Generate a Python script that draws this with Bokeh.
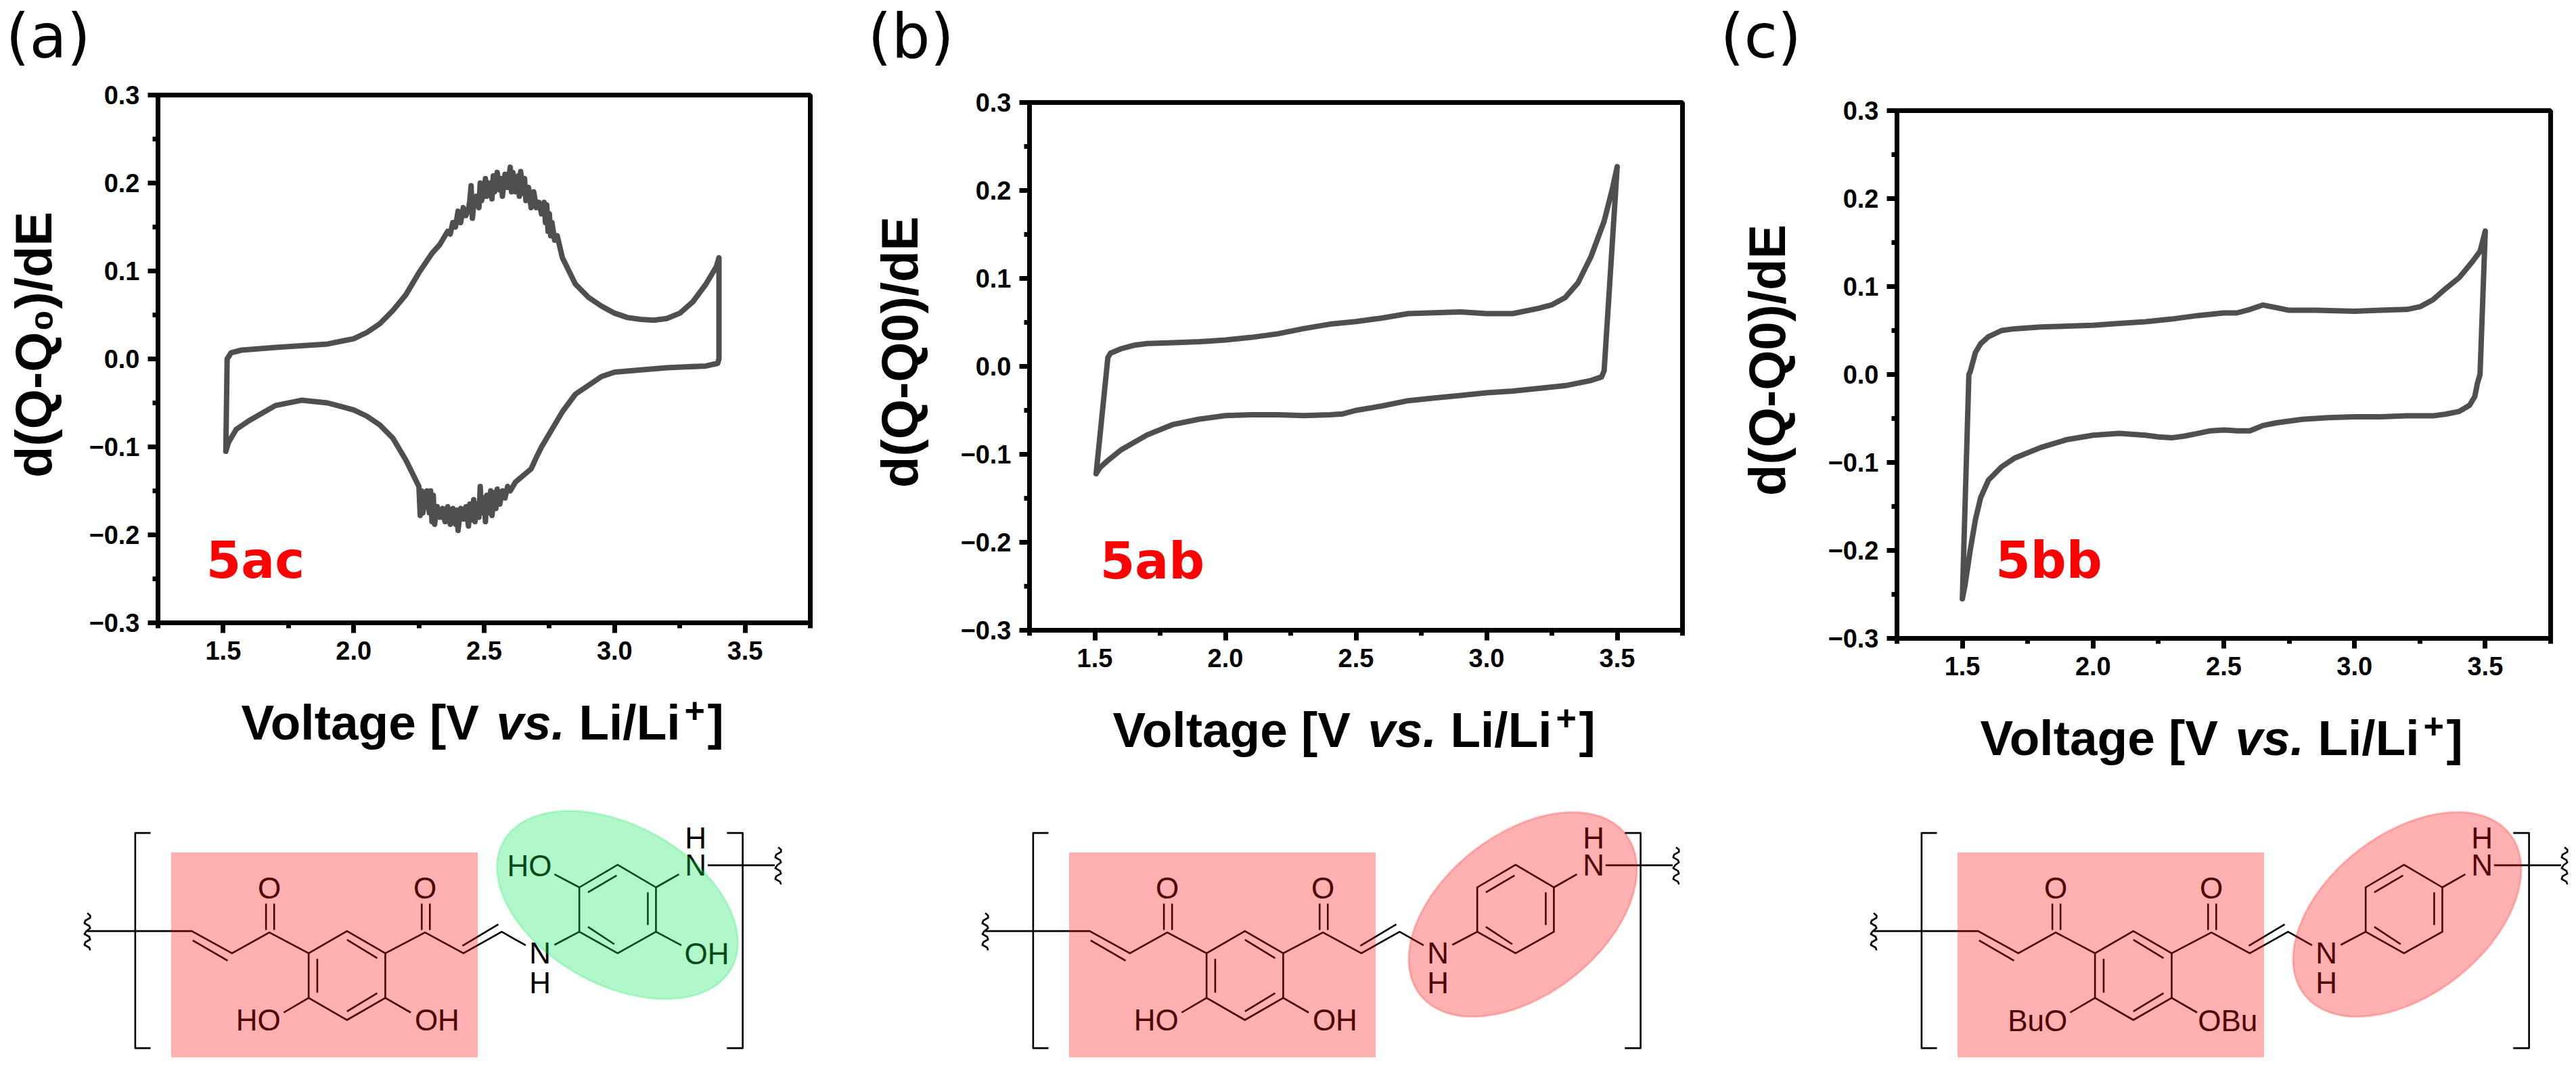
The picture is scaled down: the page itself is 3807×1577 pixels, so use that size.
from bokeh.plotting import figure
from bokeh.layouts import column, row
from bokeh.models import Label, FixedTicker, Range1d
from bokeh.core.properties import value
from bokeh.embed import file_html
from bokeh.resources import INLINE

# ---------- CV curves (voltage, d(Q-Q0)/dE) ----------
xa = [1.51,1.515,1.53,1.57,1.7,1.8,1.9,2.0,2.05,2.1,2.15,2.2,2.25,2.3,2.33,2.35,2.36,2.37,2.38,2.39,2.40,2.41,2.42,2.43,2.44,2.445,2.45,2.455,2.46,2.47,2.48,2.485,2.49,2.50,2.505,2.51,2.52,2.53,2.535,2.54,2.55,2.56,2.565,2.57,2.58,2.59,2.60,2.605,2.61,2.62,2.63,2.635,2.64,2.65,2.655,2.66,2.67,2.68,2.69,2.70,2.71,2.72,2.73,2.735,2.74,2.745,2.75,2.755,2.76,2.77,2.78,2.8,2.85,2.9,2.95,3.0,3.05,3.1,3.15,3.2,3.25,3.3,3.35,3.39,3.4,
      3.4,3.395,3.35,3.2,3.0,2.95,2.9,2.85,2.8,2.75,2.72,2.7,2.68,2.66,2.64,2.62,2.6,2.59,2.58,2.57,2.56,2.55,2.545,2.54,2.53,2.525,2.52,2.51,2.505,2.5,2.49,2.485,2.48,2.47,2.465,2.46,2.45,2.445,2.44,2.43,2.42,2.41,2.40,2.395,2.39,2.38,2.37,2.36,2.35,2.34,2.33,2.32,2.31,2.305,2.30,2.295,2.29,2.28,2.27,2.265,2.26,2.255,2.25,2.2,2.15,2.1,2.05,2.0,1.9,1.8,1.7,1.6,1.55,1.52,1.51]
ya = [-0.105,0.0,0.007,0.01,0.013,0.015,0.017,0.023,0.03,0.04,0.055,0.073,0.098,0.12,0.13,0.14,0.145,0.142,0.155,0.15,0.168,0.155,0.172,0.163,0.17,0.18,0.197,0.16,0.175,0.185,0.172,0.2,0.18,0.19,0.205,0.185,0.2,0.182,0.208,0.19,0.212,0.192,0.205,0.185,0.21,0.195,0.218,0.19,0.212,0.19,0.208,0.185,0.213,0.188,0.205,0.18,0.195,0.172,0.19,0.172,0.178,0.165,0.178,0.155,0.175,0.145,0.165,0.14,0.155,0.135,0.14,0.115,0.085,0.07,0.06,0.052,0.047,0.045,0.044,0.046,0.052,0.065,0.085,0.105,0.115,
      0.0,-0.005,-0.008,-0.01,-0.015,-0.02,-0.03,-0.04,-0.06,-0.085,-0.1,-0.112,-0.125,-0.13,-0.135,-0.14,-0.15,-0.145,-0.158,-0.15,-0.165,-0.148,-0.17,-0.152,-0.178,-0.15,-0.175,-0.155,-0.185,-0.158,-0.175,-0.145,-0.18,-0.165,-0.185,-0.16,-0.183,-0.165,-0.19,-0.168,-0.182,-0.17,-0.195,-0.172,-0.188,-0.17,-0.188,-0.168,-0.185,-0.17,-0.18,-0.168,-0.188,-0.155,-0.185,-0.15,-0.175,-0.15,-0.165,-0.175,-0.15,-0.178,-0.145,-0.115,-0.09,-0.075,-0.065,-0.058,-0.05,-0.047,-0.053,-0.07,-0.08,-0.095,-0.105]
xb = [1.505,1.55,1.56,1.6,1.65,1.7,1.8,1.9,2.0,2.1,2.2,2.3,2.4,2.5,2.6,2.7,2.8,2.9,3.0,3.1,3.2,3.25,3.3,3.35,3.4,3.45,3.48,3.5,
      3.45,3.44,3.4,3.3,3.2,3.1,3.0,2.9,2.8,2.7,2.6,2.5,2.45,2.4,2.3,2.2,2.1,2.0,1.9,1.8,1.7,1.6,1.55,1.52,1.505]
yb = [-0.122,0.01,0.015,0.02,0.024,0.026,0.027,0.028,0.03,0.033,0.037,0.043,0.048,0.051,0.055,0.06,0.061,0.062,0.06,0.06,0.066,0.07,0.078,0.095,0.125,0.165,0.2,0.227,
      -0.005,-0.012,-0.016,-0.022,-0.025,-0.028,-0.03,-0.033,-0.036,-0.039,-0.045,-0.05,-0.054,-0.055,-0.056,-0.055,-0.055,-0.056,-0.06,-0.066,-0.078,-0.095,-0.107,-0.115,-0.122]
xc = [1.5,1.525,1.53,1.55,1.57,1.6,1.65,1.7,1.8,1.9,2.0,2.1,2.2,2.3,2.4,2.5,2.55,2.6,2.65,2.7,2.75,2.85,3.0,3.1,3.2,3.25,3.3,3.35,3.4,3.45,3.48,3.5,
      3.48,3.47,3.46,3.44,3.4,3.35,3.3,3.2,3.1,3.0,2.9,2.8,2.7,2.65,2.6,2.55,2.5,2.45,2.4,2.35,2.3,2.25,2.2,2.1,2.0,1.9,1.8,1.7,1.65,1.6,1.57,1.55,1.53,1.51,1.5]
yc = [-0.255,0.0,0.003,0.025,0.035,0.043,0.05,0.052,0.054,0.055,0.056,0.058,0.06,0.063,0.067,0.07,0.07,0.074,0.079,0.076,0.073,0.073,0.072,0.073,0.074,0.077,0.085,0.098,0.11,0.128,0.14,0.163,
      0.0,-0.01,-0.025,-0.035,-0.042,-0.045,-0.047,-0.047,-0.048,-0.048,-0.049,-0.051,-0.055,-0.058,-0.064,-0.064,-0.063,-0.064,-0.067,-0.07,-0.072,-0.071,-0.069,-0.067,-0.069,-0.074,-0.083,-0.095,-0.105,-0.12,-0.14,-0.165,-0.2,-0.24,-0.255]

x_major = [1.5,2.0,2.5,3.0,3.5]
x_minor = [1.25,1.75,2.25,2.75,3.25,3.75]
y_major = [-0.3,-0.2,-0.1,0.0,0.1,0.2,0.3]
y_minor = [-0.25,-0.15,-0.05,0.05,0.15,0.25]
x_labels = {1.5:"1.5",2.0:"2.0",2.5:"2.5",3.0:"3.0",3.5:"3.5"}
y_labels = {-0.3:"\u22120.3",-0.2:"\u22120.2",-0.1:"\u22120.1",0.0:"0.0",0.1:"0.1",0.2:"0.2",0.3:"0.3"}

ARIAL = "Liberation Sans"
FH = 780
PAD_TOP = 20
PAD_BOTTOM = 70
PAGE_H = 1570

def canvas(width, page_x, y0, y1):
    """A plain drawing area whose x and y are page pixels (y negated, so it grows upward)."""
    p = figure(width=width, height=y1-y0, output_backend="svg", toolbar_location=None,
               x_range=Range1d(page_x, page_x+width), y_range=Range1d(-y1, -y0),
               min_border=0, outline_line_color=None, background_fill_color="white",
               border_fill_color="white", frame_align=False)
    p.axis.visible = False; p.grid.visible = False
    return p

def panel(xs, ys, width, left, fw, ylabel, standoff, name, name_x, name_y):
    p = figure(width=width, height=PAD_TOP+FH+PAD_BOTTOM, output_backend="svg", toolbar_location=None,
               x_range=Range1d(1.25,3.75), y_range=Range1d(-0.3,0.3),
               min_border_left=left, min_border_right=width-left-fw,
               min_border_top=PAD_TOP, min_border_bottom=PAD_BOTTOM,
               background_fill_color="white", border_fill_color="white", frame_align=False)
    p.grid.visible = False
    p.outline_line_color = "black"; p.outline_line_width = 7; p.outline_line_alpha = 1
    p.line(xs, ys, line_color="#4f4f4f", line_width=8, line_join="round", line_cap="round")
    for ax, maj, mnr, lab in ((p.xaxis, x_major, x_minor, x_labels), (p.yaxis, y_major, y_minor, y_labels)):
        ax.ticker = FixedTicker(ticks=maj, minor_ticks=mnr)
        ax.major_label_overrides = lab
        ax.axis_line_width = 7; ax.axis_line_color = "black"
        ax.major_tick_line_width = 7; ax.major_tick_line_color = "black"
        ax.major_tick_in = 0; ax.major_tick_out = 15
        ax.minor_tick_line_width = 7; ax.minor_tick_line_color = "black"
        ax.minor_tick_in = 0; ax.minor_tick_out = 8
        ax.major_label_text_font = ARIAL; ax.major_label_text_font_style = "bold"
        ax.major_label_text_font_size = "38px"; ax.major_label_text_color = "black"
        ax.major_label_standoff = 12
    p.yaxis.axis_label = ylabel
    p.yaxis.axis_label_text_font = ARIAL; p.yaxis.axis_label_text_font_style = "bold"
    p.yaxis.axis_label_text_font_size = "76px"; p.yaxis.axis_label_text_color = "black"
    p.yaxis.axis_label_standoff = standoff
    p.add_layout(Label(x=name_x, y=name_y, text=name, text_font="DejaVu Sans", text_font_style="bold",
                       text_font_size="74px", text_color="#ff0000", text_baseline="alphabetic"))
    return p

# ---------- repeating unit drawings (drawing units of the structure) ----------
chain = [(45,677),(263,677),(347,775),(425,683),(507,775)]
ring1 = [(507,775),(587,677),(667,775),(667,973),(587,1071),(507,973),(507,775)]
link  = [(667,775),(750,683),(830,775),(910,680),(960,740)]
ring2 = [(1072,680),(1152,775),(1232,680),(1232,483),(1152,383),(1072,483),(1072,680)]
bonds_common = [
    [(265,718),(338,808)], [(828,742),(903,647)],
    [(418,555),(418,672)], [(435,555),(435,672)], [(743,555),(743,672)], [(760,555),(760,672)],
    [(525,800),(525,950)], [(587,715),(650,797)], [(587,1033),(650,952)],
    [(507,973),(455,1038)], [(667,973),(720,1038)],
    [(1020,738),(1072,680)], [(1232,483),(1280,425)],
    [(1090,658),(1145,735)], [(1215,650),(1215,505)], [(1090,505),(1150,430)],
    [(1340,385),(1480,385)],
    [(177,242),(145,242),(145,1196),(177,1196)], [(1380,242),(1413,242),(1413,1196),(1380,1196)],
]
oh_bonds = [[(1232,680),(1285,740)], [(1072,483),(1020,425)]]
wave = [(0,597),(6,608),(6,618),(-4,630),(-6,642),(4,654),(6,664),(-2,677),(-6,690),(4,702),(6,714),(-4,726),(-6,738),(4,750),(6,762)]
texts_common = [("O",425,486),("O",750,486),("N",990,775),("H",990,905),("N",1315,385),("H",1315,265)]
texts_oh  = [("HO",402,1072),("OH",775,1072)]
texts_obu = [("BuO",387,1075),("OBu",784,1075)]
texts_ring_oh = [("HO",968,388),("OH",1338,778)]
SX, X0, SY, Y0 = 0.708, 96.7, 1/3, 1150

# x axis title, in pieces because of the italic "vs." and the raised "+": text, dx, drop, size, style
title_pieces = [("Voltage [V", 123, 147, 73, "bold"), ("vs.", 500, 147, 73, "bold italic"),
                ("Li/Li", 622, 147, 73, "bold"), ("+", 778, 129, 52, "bold"), ("]", 812, 147, 73, "bold")]

def lower(width, page_x, y0, frame_left, frame_bottom, shift, sub_texts, ring_oh, ell, ell_color):
    p = canvas(width, page_x, y0, PAGE_H)
    for t, dx, dy, size, style in title_pieces:
        p.text([frame_left+dx], [-(frame_bottom+dy)], text=[t], text_font=value(ARIAL), text_font_style=style,
               text_font_size=f"{size}px", text_color="black", text_baseline="alphabetic")
    X = lambda u: X0 + SX*u + shift
    Y = lambda v: -(Y0 + SY*v)
    polys = [chain, ring1, link, ring2] + bonds_common + (oh_bonds if ring_oh else []) \
            + [[(45+a, b) for a, b in wave], [(1487+a, b-292) for a, b in wave]]
    p.multi_line([[X(a) for a, b in q] for q in polys], [[Y(b) for a, b in q] for q in polys],
                 line_color="black", line_width=2.6, line_join="round")
    tx = texts_common + sub_texts + (texts_ring_oh if ring_oh else [])
    p.text([X(t[1]) for t in tx], [Y(t[2]) for t in tx], text=[t[0] for t in tx],
           text_font=value(ARIAL), text_font_size="44px", text_color="black",
           text_align="center", text_baseline="middle")
    p.quad(left=X(220), right=X(860), top=Y(328), bottom=Y(1237), fill_color="#ff0000", fill_alpha=0.31, line_color=None)
    cx, cy, w, h, ang = ell
    p.ellipse([cx+shift], [-cy], width=w, height=h, angle=ang, angle_units="deg",
              fill_color=ell_color, fill_alpha=0.31, line_color=ell_color, line_alpha=0.2, line_width=3)
    return p

def upper(width, page_x, y1, tag, tag_x):
    p = canvas(width, page_x, 0, y1)
    p.text([tag_x], [-53], text=[tag], text_font=value("DejaVu Sans"), text_font_size="90px",
           text_color="black", text_baseline="alphabetic")
    return p

NB = "\u00a0\u00a0"
def full(page_x, width, left, fw, top, tag, tag_x, ylabel, standoff, xs, ys, name, name_x, name_y, shift, sub_texts, ring_oh, ell, ell_color):
    u = upper(width, page_x, top-PAD_TOP, tag, tag_x)
    m = panel(xs, ys, width, left, fw, ylabel, standoff, name, name_x, name_y)
    frame_bottom = top+FH
    l = lower(width, page_x, frame_bottom+PAD_BOTTOM, page_x+left, frame_bottom, shift, sub_texts, ring_oh, ell, ell_color)
    return column(u, m, l, spacing=0)

ca = full(0, 1270, 233, 964, 140, "(a)", 8, NB+"d(Q-Q\u2080)/dE", 36, xa, ya, "5ac", 1.435, -0.229, 0, texts_oh, True,
          (912,1337,386,236,-29), "#00e650")
cb = full(1270, 1270, 251, 965, 151, "(b)", 1282, NB+"d(Q-Q0)/dE", 44, xb, yb, "5ab", 1.52, -0.221, 1327, texts_oh, False,
          (923,1351,386,238,38), "#ff0000")
cc = full(2540, 1267, 263, 966, 163, "(c)", 2542, NB+"d(Q-Q0)/dE", 44, xc, yc, "5bb", 1.627, -0.2115, 2640, texts_obu, False,
          (917,1351,386,238,38), "#ff0000")

page = row(ca, cb, cc, spacing=0)
open("out.html", "w").write(file_html(page, INLINE))
